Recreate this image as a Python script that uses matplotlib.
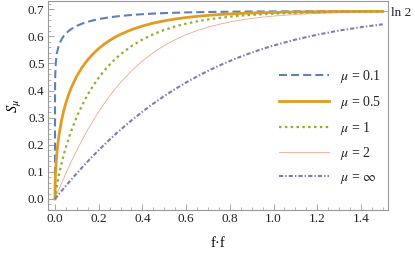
import numpy as np
import matplotlib
matplotlib.use("Agg")
import matplotlib.pyplot as plt
from matplotlib.ticker import MultipleLocator, FormatStrFormatter

# ---- data ----
x = [0, 0.0001, 0.0005, 0.001, 0.0025, 0.005, 0.0075, 0.01, 0.015, 0.02,
     0.03, 0.04, 0.05, 0.0625, 0.075, 0.1, 0.125, 0.15, 0.175, 0.2,
     0.225, 0.25, 0.275, 0.3, 0.35, 0.4, 0.45, 0.5, 0.55, 0.6,
     0.65, 0.7, 0.75, 0.8, 0.85, 0.9, 0.95, 1.0, 1.1, 1.2,
     1.3, 1.4, 1.5]
s_01 = [0, 0.3723, 0.4262, 0.4513, 0.4861, 0.5138, 0.5304, 0.5424, 0.5595, 0.5717,
        0.5891, 0.6013, 0.6107, 0.6200, 0.6274, 0.6389, 0.6473, 0.6540, 0.6593, 0.6637,
        0.6673, 0.6704, 0.6731, 0.6753, 0.6791, 0.6819, 0.6841, 0.6859, 0.6873, 0.6884,
        0.6893, 0.6900, 0.6906, 0.6911, 0.6915, 0.6918, 0.6920, 0.6922, 0.6925, 0.6927,
        0.6929, 0.6930, 0.6930]
s_05 = [0, 0.0198, 0.0437, 0.0613, 0.0951, 0.1317, 0.1586, 0.1807, 0.2162, 0.2447,
        0.2899, 0.3254, 0.3547, 0.3855, 0.4115, 0.4537, 0.4869, 0.5138, 0.5362, 0.5551,
        0.5712, 0.5850, 0.5971, 0.6076, 0.6249, 0.6384, 0.6490, 0.6575, 0.6642, 0.6697,
        0.6740, 0.6776, 0.6805, 0.6828, 0.6847, 0.6862, 0.6875, 0.6885, 0.6901, 0.6911,
        0.6918, 0.6922, 0.6925]
s_1 = [0, 0.0010, 0.0043, 0.0079, 0.0174, 0.0313, 0.0439, 0.0555, 0.0769, 0.0965,
       0.1317, 0.1630, 0.1913, 0.2235, 0.2527, 0.3040, 0.3478, 0.3856, 0.4186, 0.4476,
       0.4732, 0.4959, 0.5160, 0.5339, 0.5642, 0.5885, 0.6081, 0.6239, 0.6367, 0.6471,
       0.6555, 0.6624, 0.6680, 0.6726, 0.6764, 0.6794, 0.6819, 0.6840, 0.6870, 0.6890,
       0.6904, 0.6913, 0.6919]
s_2 = [0, 0.0002, 0.0010, 0.0020, 0.0050, 0.0100, 0.0149, 0.0198, 0.0296, 0.0392,
       0.0582, 0.0768, 0.0950, 0.1172, 0.1388, 0.1801, 0.2191, 0.2557, 0.2900, 0.3220,
       0.3520, 0.3799, 0.4058, 0.4299, 0.4727, 0.5092, 0.5402, 0.5662, 0.5881, 0.6063,
       0.6215, 0.6341, 0.6446, 0.6532, 0.6603, 0.6662, 0.6710, 0.6750, 0.6809, 0.6850,
       0.6876, 0.6895, 0.6907]
s_inf = [0, 0.0001, 0.0005, 0.0010, 0.0025, 0.0050, 0.0075, 0.0100, 0.0149, 0.0198,
         0.0295, 0.0392, 0.0488, 0.0605, 0.0722, 0.0950, 0.1172, 0.1388, 0.1598, 0.1801,
         0.1999, 0.2191, 0.2377, 0.2557, 0.2900, 0.3220, 0.3520, 0.3799, 0.4058, 0.4299,
         0.4521, 0.4727, 0.4917, 0.5092, 0.5254, 0.5402, 0.5538, 0.5662, 0.5881, 0.6063,
         0.6215, 0.6341, 0.6446]
labels = [r"$\mu$ = 0.1", r"$\mu$ = 0.5", r"$\mu$ = 1", r"$\mu$ = 2", r"$\mu$ = $\infty$"]
ln2_tick = [np.log(2)]
ln2_label = ["ln 2"]

plt.rcParams["mathtext.fontset"] = "stix"
plt.rcParams["lines.scale_dashes"] = False
serif = "Liberation Serif"

fig = plt.figure(figsize=(4.15, 2.57), dpi=100)
ax = fig.add_axes([48/415, 1 - 210/257, 340/415, 209/257])

ax.plot(x, s_01, color="#5E81B5", lw=1.5, dashes=(5.8, 2.9), label=labels[0])
ax.plot(x, s_05, color="#E19C24", lw=2.0, label=labels[1])
ax.plot(x, s_1, color="#8FB032", lw=1.6, dashes=(1.8, 2.4), label=labels[2])
ax.plot(x, s_2, color="#F0876A", lw=0.6, alpha=0.75, label=labels[3])
ax.plot(x, s_inf, color="#8778B3", lw=1.5, dashes=(3.0, 1.5, 1.0, 1.5), label=labels[4])

ax.set_xlim(-0.032, 1.524)
ax.set_ylim(-0.0406, 0.7306)

ax.xaxis.set_major_locator(MultipleLocator(0.2))
ax.xaxis.set_minor_locator(MultipleLocator(0.05))
ax.yaxis.set_major_locator(MultipleLocator(0.1))
ax.yaxis.set_minor_locator(MultipleLocator(0.02))
ax.xaxis.set_major_formatter(FormatStrFormatter("%.1f"))
ax.yaxis.set_major_formatter(FormatStrFormatter("%.1f"))

gray = "#999999"
for sp in ax.spines.values():
    sp.set_color(gray)
    sp.set_linewidth(0.8)
ax.tick_params(which="both", direction="in", color=gray, top=False, right=False,
               labelsize=9.5, labelcolor="#222222", pad=2.5)
ax.tick_params(which="major", length=4, width=0.6)
ax.tick_params(which="minor", length=2, width=0.5)
for t in ax.get_xticklabels() + ax.get_yticklabels():
    t.set_fontfamily(serif)

ax2 = ax.twinx()
ax2.set_ylim(ax.get_ylim())
ax2.set_yticks(ln2_tick, ln2_label)
ax2.tick_params(direction="in", color=gray, length=4, width=0.6, labelsize=9.5,
                labelcolor="#222222", pad=2.5)
for t in ax2.get_yticklabels():
    t.set_fontfamily(serif)
for sp in ax2.spines.values():
    sp.set_visible(False)

ax.set_ylabel(r"$S_\mu$", fontsize=10.5, labelpad=3)
ax.set_xlabel("f·f", fontsize=10.5, fontfamily=serif, labelpad=8)

leg = ax.legend(loc="center left", bbox_to_anchor=(0.662, 0.397), frameon=False,
                prop={"family": serif, "size": 10}, handlelength=3.6,
                labelspacing=0.62, handletextpad=0.8, borderaxespad=0)
for t in leg.get_texts():
    t.set_color("#222222")

fig.savefig("out.png", dpi=100)
